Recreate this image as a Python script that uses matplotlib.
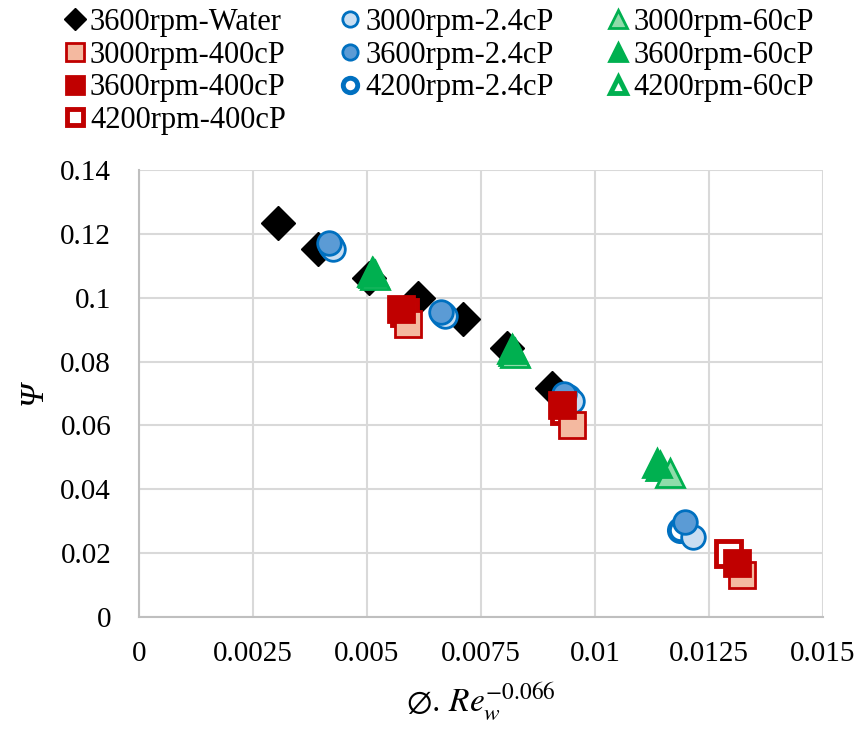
import matplotlib
matplotlib.use('Agg')
import matplotlib.pyplot as plt

plt.rcParams['font.family'] = ['Liberation Serif', 'DejaVu Serif']
plt.rcParams['mathtext.fontset'] = 'stix'

# series values (x = phi.Re_w^-0.066, y = psi)
water_x = [0.00305, 0.00393, 0.00504, 0.00612, 0.00711, 0.00807, 0.00906]
water_y = [0.1234, 0.1153, 0.1063, 0.1000, 0.0934, 0.0841, 0.0716]

c24_3000_x = [0.00425, 0.00671, 0.0095, 0.01215]
c24_3000_y = [0.1153, 0.0944, 0.0678, 0.0250]
c24_3600_x = [0.00417, 0.00662, 0.00932, 0.01197]
c24_3600_y = [0.1172, 0.0956, 0.0700, 0.0297]
c24_4200_x = [0.00421, 0.00667, 0.0094, 0.01186]
c24_4200_y = [0.1163, 0.0950, 0.0690, 0.0272]

c60_3000_x = [0.00518, 0.00825, 0.01164]
c60_3000_y = [0.1072, 0.0828, 0.0450]
c60_3600_x = [0.00511, 0.00818, 0.01136]
c60_3600_y = [0.1081, 0.0838, 0.0481]
c60_4200_x = [0.00513, 0.0082, 0.01143]
c60_4200_y = [0.1078, 0.0834, 0.0472]

c400_3000_x = [0.0059, 0.0095, 0.01322]
c400_3000_y = [0.0919, 0.0600, 0.0131]
c400_3600_x = [0.00575, 0.00928, 0.01311]
c400_3600_y = [0.0966, 0.0663, 0.0169]
c400_4200_x = [0.00581, 0.00932, 0.01292]
c400_4200_y = [0.0956, 0.0647, 0.0200]

x_ticks = [0, 0.0025, 0.005, 0.0075, 0.01, 0.0125, 0.015]
x_labels = ['0', '0.0025', '0.005', '0.0075', '0.01', '0.0125', '0.015']
y_ticks = [0, 0.02, 0.04, 0.06, 0.08, 0.1, 0.12, 0.14]
y_labels = ['0', '0.02', '0.04', '0.06', '0.08', '0.1', '0.12', '0.14']

blue = '#0070c0'
red = '#c00000'
green = '#00b050'

fig = plt.figure(figsize=(8.56, 7.3), dpi=100)
ax = fig.add_axes([0.1624, 0.1548, 0.799, 0.6123])

h = {}
h['w'] = ax.plot(water_x, water_y, 'D', ms=17, color='black', mec='black', label='3600rpm-Water')[0]
# hollow first, light next, solid on top (as in the reference overlap)
h['b3'] = ax.plot(c24_4200_x, c24_4200_y, 'o', ms=16, mfc='white', mec=blue, mew=3.5, label='4200rpm-2.4cP')[0]
h['g3'] = ax.plot(c60_4200_x, c60_4200_y, '^', ms=18, mfc='white', mec=green, mew=3.5, label='4200rpm-60cP')[0]
h['r3'] = ax.plot(c400_4200_x, c400_4200_y, 's', ms=18, mfc='white', mec=red, mew=3.5, label='4200rpm-400cP')[0]
h['b1'] = ax.plot(c24_3000_x, c24_3000_y, 'o', ms=17, mfc='#c9def2', mec=blue, mew=2, label='3000rpm-2.4cP')[0]
h['g1'] = ax.plot(c60_3000_x, c60_3000_y, '^', ms=20, mfc='#8fdcaa', mec=green, mew=2, label='3000rpm-60cP')[0]
h['r1'] = ax.plot(c400_3000_x, c400_3000_y, 's', ms=19, mfc='#f4b9a0', mec=red, mew=2, label='3000rpm-400cP')[0]
h['b2'] = ax.plot(c24_3600_x, c24_3600_y, 'o', ms=17, mfc='#5b9bd5', mec=blue, mew=2, label='3600rpm-2.4cP')[0]
h['g2'] = ax.plot(c60_3600_x, c60_3600_y, '^', ms=20, mfc=green, mec=green, mew=2, label='3600rpm-60cP')[0]
h['r2'] = ax.plot(c400_3600_x, c400_3600_y, 's', ms=19, mfc=red, mec=red, mew=2, label='3600rpm-400cP')[0]

ax.set_xlim(0, 0.015)
ax.set_ylim(0, 0.14)
ax.set_xticks(x_ticks)
ax.set_xticklabels(x_labels)
ax.set_yticks(y_ticks)
ax.set_yticklabels(y_labels)
ax.tick_params(length=0, labelsize=21)
ax.tick_params(axis='x', pad=17)
ax.tick_params(axis='y', pad=20)
ax.grid(True, color='#d9d9d9', lw=1.5)
ax.set_axisbelow(True)
for s in ['top', 'right']:
    ax.spines[s].set_visible(False)
for s in ['left', 'bottom']:
    ax.spines[s].set_color('#bfbfbf')
    ax.spines[s].set_linewidth(1.5)

ax.set_ylabel('Ψ', fontsize=24, style='italic', labelpad=8)
ax.set_xlabel(r'$\emptyset.\,\mathit{Re}_w^{-0.066}$', fontsize=24, labelpad=10)

# legend in column-major order so that rows read like the reference
order = ['w', 'r1', 'r2', 'r3', 'b1', 'b2', 'b3', 'g1', 'g2', 'g3']
leg = fig.legend([h[k] for k in order], [h[k].get_label() for k in order],
                 loc='upper center', bbox_to_anchor=(0.51, 1.01), ncol=3,
                 frameon=False, fontsize=22, handletextpad=0.0, columnspacing=1.6,
                 labelspacing=0.12, markerscale=0.65, handlelength=1.0,
                 borderaxespad=0.1)

fig.savefig('out.png', dpi=100)
